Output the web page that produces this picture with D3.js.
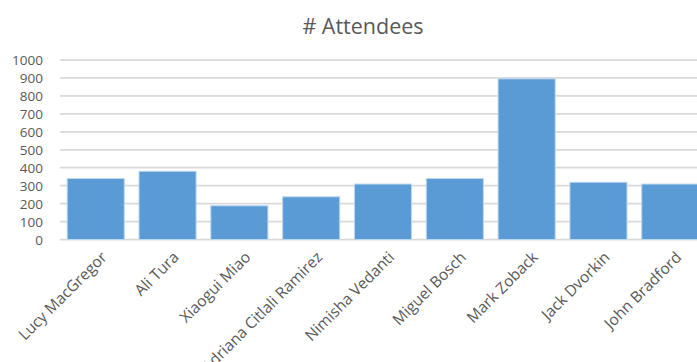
<!DOCTYPE html>
<html><head><meta charset="utf-8">
<script src="https://cdn.jsdelivr.net/npm/d3@7"></script>
<style>body{margin:0;background:#fff;overflow:hidden}</style>
</head><body>
<svg id="c" width="697" height="362"></svg>
<script>
const categories = ["Lucy MacGregor","Ali Tura","Xiaogui Miao","Adriana Citlali Ramirez","Nimisha Vedanti","Miguel Bosch","Mark Zoback","Jack Dvorkin","John Bradford"];
const attendees = [340, 380, 188, 238, 309, 340, 895, 319, 309];
const yTicks = [0,100,200,300,400,500,600,700,800,900,1000];
const title = "# Attendees";

const svg = d3.select("#c");
const font = "'Open Sans', sans-serif";
const x = d3.scaleBand().domain(categories).range([60, 706]).paddingInner(0.205).paddingOuter(0.1);
const y = d3.scaleLinear().domain([0, 1000]).range([239.5, 60]);

svg.append("text").attr("x", 363).attr("y", 34).attr("text-anchor", "middle")
  .attr("font-family", font).attr("font-size", 21.5).attr("fill", "#595959").text(title);

const yAxis = d3.axisLeft(y).tickValues(yTicks).tickSize(0).tickPadding(0).tickFormat(d3.format("d"));
const gy = svg.append("g").attr("transform", "translate(43,0)").call(yAxis);
gy.select(".domain").remove();
gy.selectAll("text").attr("font-family", font).attr("font-size", 13.5).attr("fill", "#595959").attr("dy", "0.35em");

svg.append("g").selectAll("line").data(yTicks).join("line")
  .attr("x1", 60).attr("x2", 697).attr("y1", d => y(d)).attr("y2", d => y(d))
  .attr("stroke", "#D9D9D9").attr("stroke-width", 1.75);

svg.append("g").selectAll("rect").data(categories).join("rect")
  .attr("x", d => x(d)).attr("width", x.bandwidth())
  .attr("y", (d, i) => y(attendees[i])).attr("height", (d, i) => y(0) - y(attendees[i]))
  .attr("fill", "#5B9BD5").attr("stroke", "#BDD7EE").attr("stroke-width", 1);

const xAxis = d3.axisBottom(x).tickSize(0).tickPadding(0);
const gx = svg.append("g").attr("transform", "translate(0,250)").call(xAxis);
gx.select(".domain").remove();
gx.selectAll("text").attr("font-family", font).attr("font-size", 15.5).attr("fill", "#595959")
  .attr("text-anchor", "end").attr("dy", "0.75em").attr("dx", "0")
  .attr("transform", "translate(4,0) rotate(-45)");
</script>
</body></html>
